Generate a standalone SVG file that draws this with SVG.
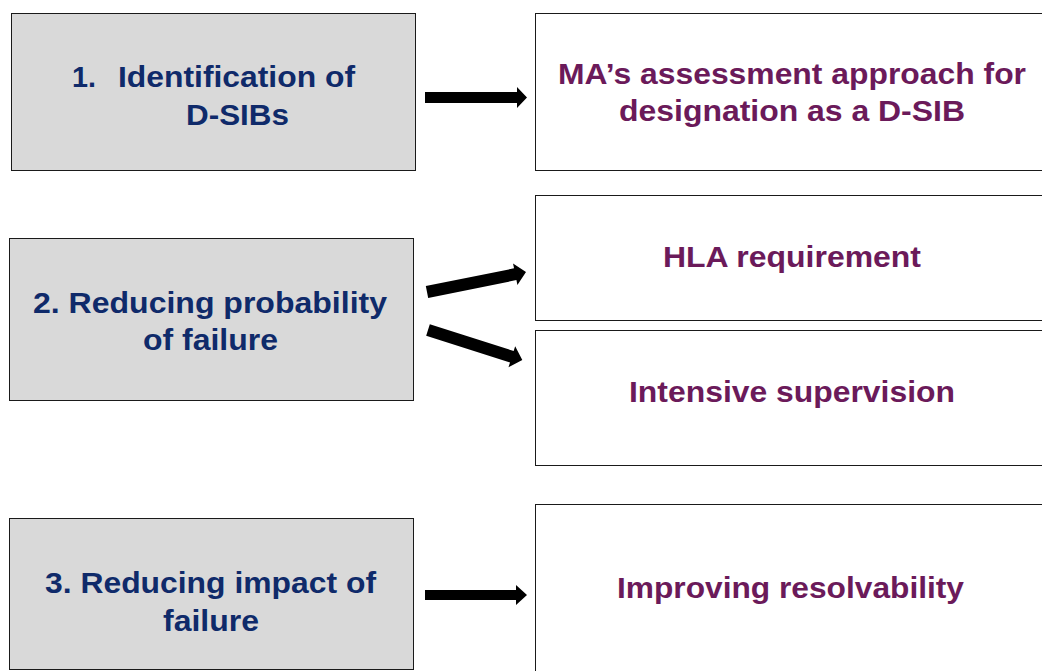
<svg xmlns="http://www.w3.org/2000/svg" width="1042" height="671" viewBox="0 0 1042 671">
<style>
.l{fill:#d9d9d9;stroke:#1a1a1a;stroke-width:1}
.r{fill:#ffffff;stroke:#1a1a1a;stroke-width:1}
.tl{font-family:"Liberation Sans",Arial,sans-serif;font-weight:bold;font-size:30px;fill:#0f2a6a}
.tr{font-family:"Liberation Sans",Arial,sans-serif;font-weight:bold;font-size:30px;fill:#6b1a5a}
.a{fill:#000000}
</style>
<rect width="1042" height="671" fill="#ffffff"/>
<g id="n1">
<rect class="l" x="11.5" y="13.5" width="404" height="157"/>
<text class="tl" x="72" y="87" textLength="24" lengthAdjust="spacingAndGlyphs">1.</text>
<text class="tl" x="118" y="87" textLength="237" lengthAdjust="spacingAndGlyphs">Identification of</text>
<text class="tl" x="186" y="125" textLength="103" lengthAdjust="spacingAndGlyphs">D-SIBs</text>
</g>
<g id="n2">
<rect class="l" x="9.5" y="238.5" width="404" height="162"/>
<text class="tl" x="33" y="313" textLength="354" lengthAdjust="spacingAndGlyphs">2. Reducing probability</text>
<text class="tl" x="143" y="350" textLength="135" lengthAdjust="spacingAndGlyphs">of failure</text>
</g>
<g id="n3">
<rect class="l" x="9.5" y="518.5" width="404" height="151"/>
<text class="tl" x="45" y="593" textLength="331" lengthAdjust="spacingAndGlyphs">3. Reducing impact of</text>
<text class="tl" x="163" y="631" textLength="96" lengthAdjust="spacingAndGlyphs">failure</text>
</g>
<g id="r1">
<rect class="r" x="535.5" y="13.5" width="510" height="157"/>
<text class="tr" x="558" y="84" textLength="468" lengthAdjust="spacingAndGlyphs">MA’s assessment approach for</text>
<text class="tr" x="619" y="121" textLength="346" lengthAdjust="spacingAndGlyphs">designation as a D-SIB</text>
</g>
<g id="r2">
<rect class="r" x="535.5" y="195.5" width="510" height="125"/>
<text class="tr" x="663" y="267" textLength="258" lengthAdjust="spacingAndGlyphs">HLA requirement</text>
</g>
<g id="r3">
<rect class="r" x="535.5" y="330.5" width="510" height="135"/>
<text class="tr" x="629" y="402" textLength="326" lengthAdjust="spacingAndGlyphs">Intensive supervision</text>
</g>
<g id="r4">
<rect class="r" x="535.5" y="504.5" width="510" height="170"/>
<text class="tr" x="617" y="598" textLength="347" lengthAdjust="spacingAndGlyphs">Improving resolvability</text>
</g>
<g id="connectors">
<polygon class="a" points="425,92 517,92 517,87 527,97.5 517,108 517,103 425,103"/>
<polygon class="a" points="425,590 516,590 516,585 527,595 516,605 516,600 425,600"/>
<g transform="translate(427,292) rotate(-11.4)">
<polygon class="a" points="0,-6 90,-6 90,-11 101,0 90,11 90,6 0,6"/>
</g>
<g transform="translate(428,330) rotate(17.7)">
<polygon class="a" points="0,-6 88,-6 88,-11 99,0 88,11 88,6 0,6"/>
</g>
</g>
</svg>
